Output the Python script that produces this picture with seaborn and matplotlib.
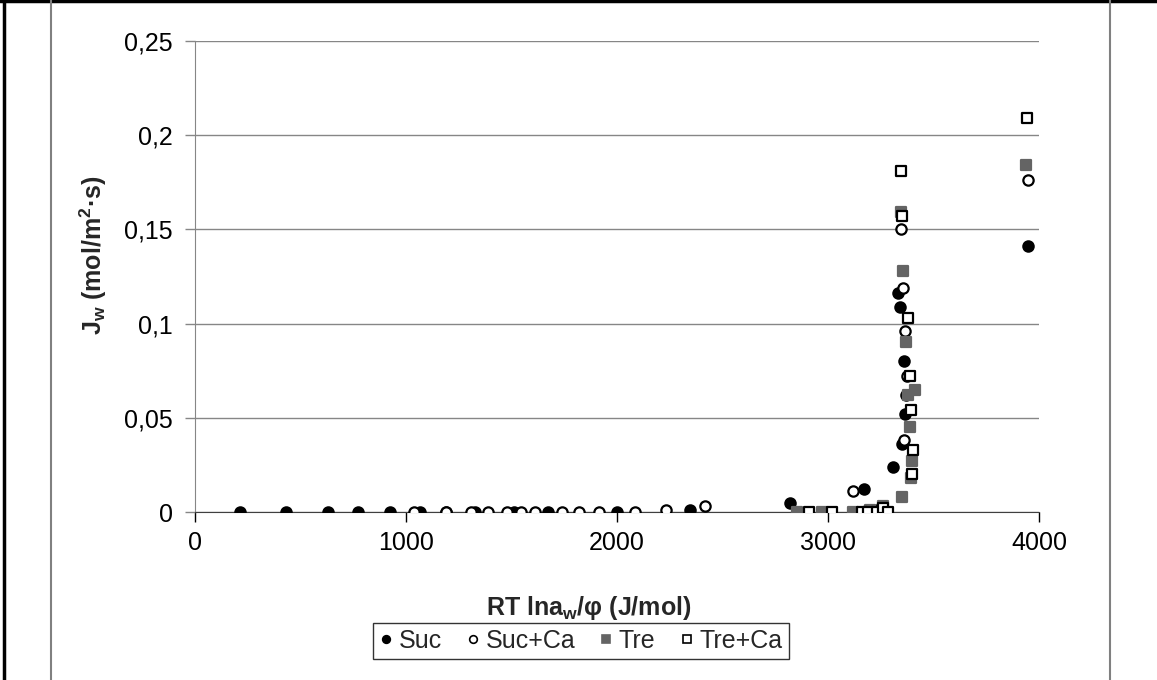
import matplotlib
matplotlib.use('Agg')
import matplotlib.pyplot as plt
import seaborn as sns
import pandas as pd
from matplotlib.lines import Line2D
from matplotlib.ticker import FuncFormatter

# data (x: J/mol, y: mol/m2.s)
suc_x = [213, 431, 630, 773, 924, 1066, 1190, 1327, 1512, 1673, 2000, 2346, 2820, 3170, 3210, 3235, 3255, 3310, 3330, 3340, 3350, 3360, 3365, 3950]
suc_y = [0, 0, 0, 0, 0, 0, 0, 0, 0, 0, 0, 0.001, 0.005, 0.012, 0.001, 0, 0, 0.024, 0.116, 0.109, 0.036, 0.08, 0.052, 0.141]

succa_x = [1040, 1190, 1310, 1390, 1480, 1545, 1610, 1740, 1820, 1915, 2085, 2230, 2417, 3118, 3230, 3345, 3355, 3360, 3365, 3370, 3375, 3950]
succa_y = [0, 0, 0, 0, 0, 0, 0, 0, 0, 0, 0, 0.001, 0.003, 0.011, 0.001, 0.15, 0.119, 0.038, 0.096, 0.062, 0.072, 0.176]

tre_x = [2853, 2972, 3118, 3200, 3260, 3351, 3345, 3355, 3370, 3380, 3390, 3395, 3400, 3410, 3940]
tre_y = [0, 0, 0, 0.001, 0.003, 0.008, 0.159, 0.128, 0.09, 0.062, 0.045, 0.018, 0.027, 0.065, 0.184]

treca_x = [2910, 3019, 3161, 3190, 3232, 3261, 3284, 3345, 3350, 3380, 3390, 3395, 3400, 3405, 3945]
treca_y = [0, 0, 0, 0, 0, 0.002, 0, 0.181, 0.157, 0.103, 0.072, 0.054, 0.02, 0.033, 0.209]

series = [
    ('Suc', suc_x, suc_y, 'o', 'black', 'black'),
    ('Suc+Ca', succa_x, succa_y, 'o', 'white', 'black'),
    ('Tre', tre_x, tre_y, 's', '#646464', '#646464'),
    ('Tre+Ca', treca_x, treca_y, 's', 'white', 'black'),
]

sns.set_style('white')
plt.rcParams['font.family'] = ['Liberation Sans', 'DejaVu Sans']
plt.rcParams['mathtext.fontset'] = 'custom'
plt.rcParams['mathtext.rm'] = 'Liberation Sans'
plt.rcParams['mathtext.bf'] = 'Liberation Sans:bold'

fig = plt.figure(figsize=(11.57, 6.8), dpi=100)
ax = fig.add_axes([195/1157, 1-512/680, (1039-195)/1157, (512-41)/680])

handles = []
for name, xs, ys, mk, fc, ec in series:
    df = pd.DataFrame({'x': xs, 'y': ys})
    sns.scatterplot(data=df, x='x', y='y', ax=ax, marker=mk, s=55,
                    facecolor=fc, edgecolor=ec, linewidth=1.6, zorder=3)
    handles.append(Line2D([], [], ls='none', marker=mk, markersize=5.5,
                          markerfacecolor=fc, markeredgecolor=ec,
                          markeredgewidth=1.2, label=name))

ax.set_xlim(0, 4000)
ax.set_ylim(0, 0.25)
ax.set_xticks([0, 1000, 2000, 3000, 4000])
ax.set_yticks([0, 0.05, 0.1, 0.15, 0.2, 0.25])
ax.yaxis.set_major_formatter(FuncFormatter(lambda v, p: ('%g' % round(v, 2)).replace('.', ',')))
ax.grid(axis='y', color='#868686', lw=1)
ax.set_axisbelow(True)
for s in ['top', 'right']:
    ax.spines[s].set_visible(False)
ax.spines['left'].set_color('#868686')
ax.spines['bottom'].set_color('#404040')
ax.tick_params(axis='both', direction='out', length=7, width=1, colors='black',
               labelsize=18, bottom=True, left=True)
ax.tick_params(axis='y', color='#868686', pad=9)
ax.tick_params(axis='x', pad=7)

ax.set_xlabel(r'RT lna$_\mathbf{w}$/φ (J/mol)', fontsize=18, fontweight='bold')
ax.xaxis.set_label_coords(0.466, -0.175)
ax.set_ylabel(r'J$_\mathbf{w}$ (mol/m$^\mathbf{2}$·s)', fontsize=18, fontweight='bold')
ax.yaxis.set_label_coords(-0.102, 0.546)

fig.legend(handles=handles, loc='center', bbox_to_anchor=(581/1157, 1-641/680), ncol=4,
           fontsize=18, frameon=True, edgecolor='black', fancybox=False,
           handlelength=0.5, handletextpad=0.25, columnspacing=1.0,
           borderpad=0.25, borderaxespad=0)
fig.legends[0].get_frame().set_linewidth(1.0)

# table-cell borders around the chart
fig.add_artist(Line2D([0, 1], [0.998, 0.998], color='black', lw=2.5, transform=fig.transFigure))
fig.add_artist(Line2D([4/1157, 4/1157], [0, 1], color='black', lw=2.5, transform=fig.transFigure))
fig.add_artist(Line2D([51/1157, 51/1157], [0, 1], color='#808080', lw=1.5, transform=fig.transFigure))
fig.add_artist(Line2D([1110/1157, 1110/1157], [0, 1], color='#808080', lw=1.5, transform=fig.transFigure))

fig.savefig('out.png', dpi=100)
